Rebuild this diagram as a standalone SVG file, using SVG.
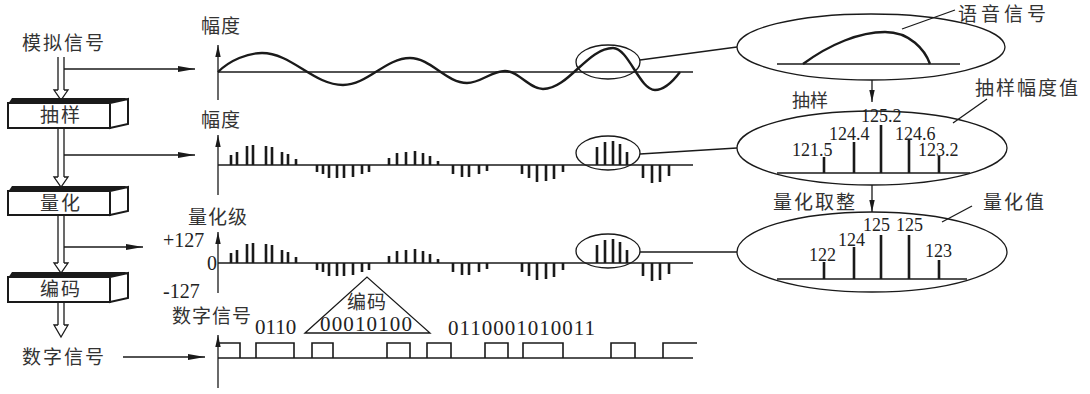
<svg xmlns="http://www.w3.org/2000/svg" width="1090" height="394" viewBox="0 0 1090 394">
<style>
.cn{font-family:"Noto Sans CJK SC","Noto Sans",sans-serif;font-size:19px;fill:#333;letter-spacing:2px}
.num{font-family:"Liberation Serif",serif;font-size:18px;fill:#222}
.big{font-family:"Liberation Serif",serif;font-size:21px;fill:#222}
.ln{stroke:#1a1a1a;stroke-width:1.3;fill:none}
.thk{stroke:#1a1a1a;stroke-width:2.4;fill:none}
.stm{stroke:#1a1a1a;stroke-width:2.6}
.box{fill:#fff;stroke:#1a1a1a;stroke-width:2}
.top{fill:#1a1a1a}
.hol{fill:#fff;stroke:#1a1a1a;stroke-width:1.3}
</style>
<defs>
<marker id="arr" markerWidth="17" markerHeight="6" refX="17" refY="3" orient="auto" markerUnits="userSpaceOnUse"><path d="M0,0 L17,3 L0,6 z" fill="#1a1a1a"/></marker>
<marker id="arrS" markerWidth="12" markerHeight="6" refX="12" refY="3" orient="auto" markerUnits="userSpaceOnUse"><path d="M0,0.3 L12,3 L0,5.7 z" fill="#1a1a1a"/></marker>
<g id="stems">
<path class="stm" d="M231,165V155M237,165V152M247,165V146M253,165V145M266,165V146M272,165V147M282,165V152M288,165V154M296,165V159M317,165V172M323,165V174M329,165V178M337,165V178M344,165V178M353,165V177M362,165V174M369,165V172M389,165V158M397,165V153M406,165V152M415,165V151M423,165V153M430,165V156M438,165V161M453,165V174M462,165V177M469,165V177M479,165V174M487,165V171M522,165V174M529,165V178M537,165V182M546,165V181M554,165V179M563,165V172M597,165V147M605,165V142M613,165V141M620,165V144M627,165V152M643,165V178M652,165V183M660,165V182M669,165V176"/>
</g>
</defs>
<rect width="1090" height="394" fill="#fff"/>

<g id="connectors">
<path class="ln" d="M58,57V90M64,57V90M58,128V177M64,128V177M58,215V263M64,215V263M58,302V325M64,302V325"/>
<path class="hol" d="M58,90 L54,90 L61,100 L68,90 L64,90"/>
<path class="hol" d="M58,177 L54,177 L61,187 L68,177 L64,177"/>
<path class="hol" d="M58,263 L54,263 L61,273 L68,263 L64,263"/>
<path class="hol" d="M58,325 L54,325 L61,337 L68,325 L64,325"/>
<line class="ln" x1="64" y1="69" x2="195" y2="69" marker-end="url(#arr)"/>
<line class="ln" x1="64" y1="155" x2="195" y2="155" marker-end="url(#arr)"/>
<line class="ln" x1="64" y1="247" x2="143" y2="247" marker-end="url(#arr)"/>
<line class="ln" x1="123" y1="357" x2="205" y2="357" marker-end="url(#arr)"/>
<line class="ln" x1="640" y1="60" x2="737" y2="47"/>
<line class="ln" x1="640" y1="154" x2="737" y2="148"/>
<line class="ln" x1="640" y1="252" x2="737" y2="252"/>
<line class="ln" x1="902" y1="29" x2="955" y2="10"/>
<line class="ln" x1="953" y1="123" x2="987" y2="99"/>
<line class="ln" x1="942" y1="222" x2="972" y2="206"/>
<line class="ln" x1="872" y1="80" x2="872" y2="102" marker-end="url(#arrS)"/>
<line class="ln" x1="872" y1="185" x2="872" y2="212" marker-end="url(#arrS)"/>
</g>

<g id="input">
<text class="cn" x="22" y="50">模拟信号</text>
</g>
<g id="box-sampling">
<rect class="box" x="8" y="103" width="102" height="25"/>
<polygon class="top" points="8,104 110,104 128,98 12,98"/>
<polygon class="box" points="110,103 128,99 128,124 110,128"/>
<text class="cn" x="40" y="122">抽样</text>
</g>
<g id="box-quantize">
<rect class="box" x="8" y="191" width="102" height="24"/>
<polygon class="top" points="8,192 110,192 128,186 12,186"/>
<polygon class="box" points="110,191 128,187 128,211 110,215"/>
<text class="cn" x="40" y="210">量化</text>
</g>
<g id="box-encode">
<rect class="box" x="8" y="277" width="102" height="25"/>
<polygon class="top" points="8,278 110,278 128,272 12,272"/>
<polygon class="box" points="110,277 128,273 128,298 110,302"/>
<text class="cn" x="40" y="296">编码</text>
</g>
<g id="output">
<text class="cn" x="22" y="364">数字信号</text>
</g>

<g id="chart-analog">
<text class="cn" x="201" y="33" style="letter-spacing:1px">幅度</text>
<line class="ln" x1="218" y1="100" x2="218" y2="45" marker-end="url(#arrS)"/>
<line class="ln" x1="218" y1="72" x2="693" y2="72"/>
<path class="thk" d="M218,72 C230,60 248,53 262,53 C291.5,53 313.5,85 343,85 C367.4,85 385.6,58 410,58 C430.7,58 446.3,83 467,83 C480.8,83 491.2,71 505,71 C518.8,71 529.2,89 543,89 C568.5,89 587.5,48 613,48 C628.3,48 639.7,90 655,90 C665,90 674,80 680,72"/>
<ellipse class="ln" cx="608" cy="62" rx="32" ry="17"/>
</g>

<g id="chart-sampled">
<text class="cn" x="201" y="127" style="letter-spacing:1px">幅度</text>
<line class="ln" x1="218" y1="195" x2="218" y2="135" marker-end="url(#arrS)"/>
<line class="ln" x1="218" y1="165" x2="693" y2="165"/>
<use href="#stems"/>
<ellipse class="ln" cx="608" cy="153" rx="32" ry="17"/>
</g>

<g id="chart-quantized">
<text class="cn" x="188" y="224" style="letter-spacing:1px">量化级</text>
<text class="big" x="163" y="247" style="font-size:20px">+127</text>
<text class="big" x="207" y="270" style="font-size:20px">0</text>
<text class="big" x="163" y="298" style="font-size:20px">-127</text>
<line class="ln" x1="218" y1="293" x2="218" y2="232" marker-end="url(#arrS)"/>
<line class="ln" x1="218" y1="263" x2="693" y2="263"/>
<use href="#stems" transform="translate(0,98)"/>
<ellipse class="ln" cx="608" cy="251" rx="32" ry="17"/>
</g>

<g id="chart-digital">
<text class="cn" x="172" y="323" style="letter-spacing:1px">数字信号</text>
<text class="big" x="255" y="334">0110</text>
<path class="ln" d="M305,333 L367,277 L430,333 Z"/>
<text class="cn" x="347" y="309" style="letter-spacing:1px">编码</text>
<text class="big" x="320" y="331" textLength="92">00010100</text>
<text class="big" x="448" y="335" textLength="147">0110001010011</text>
<line class="ln" x1="218" y1="388" x2="218" y2="335" marker-end="url(#arrS)"/>
<line class="ln" x1="218" y1="358" x2="693" y2="358"/>
<path class="thk" style="stroke-width:1.6" d="M218,343 H240 V358 M256,358 V343 H294 V358 M312,358 V343 H333 V358 M387,358 V343 H410 V358 M427,358 V343 H451 V358 M485,358 V343 H508 V358 M523,358 V343 H563 V358 M611,358 V343 H635 V358 M663,358 V343 H697"/>
</g>

<g id="zoom-speech">
<ellipse class="ln" cx="871" cy="47" rx="134" ry="33"/>
<line class="ln" x1="777" y1="64" x2="960" y2="64"/>
<path class="thk" d="M803,64 C830,44 860,32 885,32 C910,32 925,50 930,64"/>
<text class="cn" x="958" y="21" style="letter-spacing:4px">语音信号</text>
</g>

<g id="zoom-sampled">
<text class="cn" x="792" y="107" style="font-size:18px;letter-spacing:0">抽样</text>
<text class="cn" x="975" y="95">抽样幅度值</text>
<ellipse class="ln" cx="872" cy="148" rx="135" ry="37"/>
<line class="ln" x1="777" y1="173" x2="970" y2="173"/>
<path class="stm" d="M824,173V157M854,173V142M881,173V125M909,173V140M939,173V156"/>
<text class="num" x="792" y="156">121.5</text>
<text class="num" x="829" y="140">124.4</text>
<text class="num" x="861" y="122">125.2</text>
<text class="num" x="895" y="140">124.6</text>
<text class="num" x="918" y="156">123.2</text>
</g>

<g id="zoom-quantized">
<text class="cn" x="773" y="209">量化取整</text>
<text class="cn" x="983" y="209">量化值</text>
<ellipse class="ln" cx="872" cy="252" rx="135" ry="40"/>
<line class="ln" x1="777" y1="279" x2="967" y2="279"/>
<path class="stm" d="M824,279V262M854,279V247M881,279V235M909,279V235M939,279V260"/>
<text class="num" x="809" y="261">122</text>
<text class="num" x="838" y="246">124</text>
<text class="num" x="863" y="231">125</text>
<text class="num" x="896" y="231">125</text>
<text class="num" x="925" y="257">123</text>
</g>
</svg>
